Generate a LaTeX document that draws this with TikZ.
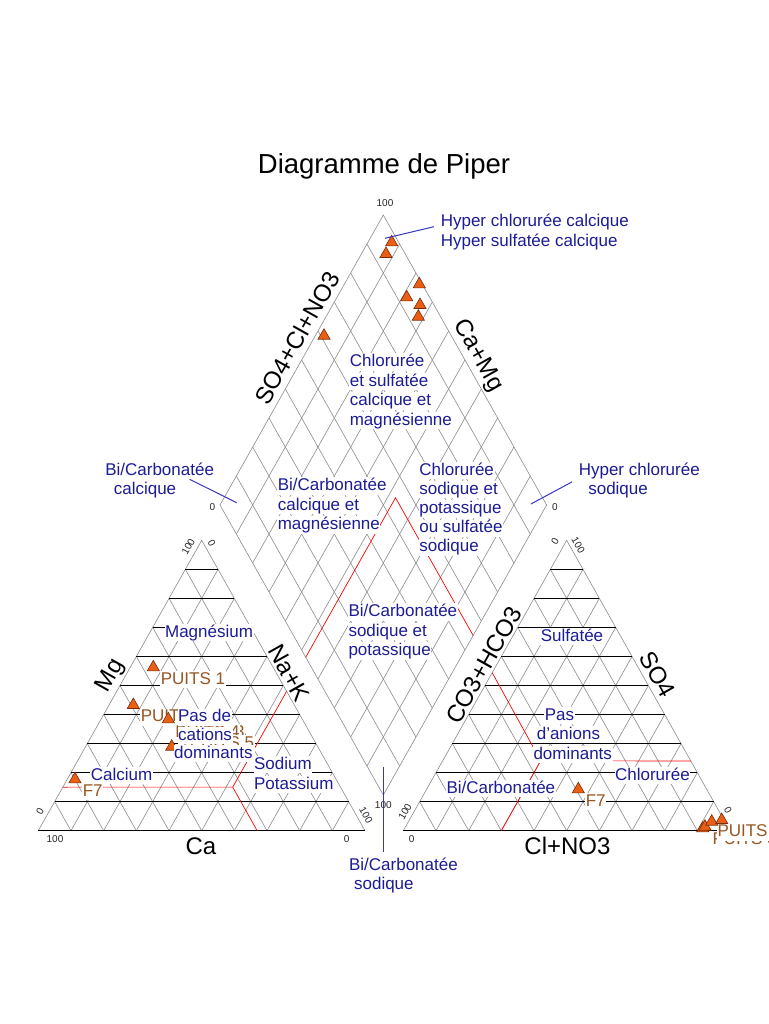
\documentclass[tikz,border=0pt]{standalone}
\usepackage{fontspec}
\setmainfont{Liberation Sans}
\usetikzlibrary{calc,shapes.geometric}

\definecolor{zoneblue}{RGB}{28,28,150}
\definecolor{pointerblue}{RGB}{55,55,190}
\definecolor{wellbrown}{RGB}{150,85,35}
\definecolor{markfill}{RGB}{235,95,20}
\definecolor{markline}{RGB}{120,45,10}
\definecolor{gridgray}{RGB}{140,140,140}

\newcommand{\zonefont}{\fontsize{17}{19.5}\selectfont}
\newcommand{\axisfont}{\fontsize{24}{28}\selectfont}
\newcommand{\tickfont}{\fontsize{10}{12}\selectfont}

\tikzset{
  grid line/.style={gridgray, line width=0.6pt},
  level line/.style={black, line width=0.9pt},
  class line/.style={red, line width=0.7pt},
  pointer/.style={pointerblue, line width=1pt},
  zone/.style={text=zoneblue, fill=white, inner sep=0.6pt, text height=12.5pt, text depth=3.5pt, anchor=base west, font=\zonefont},
  well/.style={zone, text=wellbrown},
  axis/.style={font=\axisfont, inner sep=0pt},
  tick/.style={font=\tickfont, text=black!85, inner sep=0pt},
  sample/.style={regular polygon, regular polygon sides=3, minimum size=14pt, inner sep=0pt, draw=markline, fill=markfill, line width=0.6pt}
}

\begin{document}
\begin{tikzpicture}[x=1pt,y=-1pt]
\useasboundingbox (0,0) rectangle (768,1024);
\fill[white] (0,0) rectangle (768,1024);

\node[font=\fontsize{27.5}{33}\selectfont, anchor=base] (title) at (384,174) {Diagramme de Piper};

% corners of the three plots
\coordinate (ca) at (38.3,830.7);
\coordinate (na) at (365,830.7);
\coordinate (mg) at (201.7,540.3);
\coordinate (hco) at (403.3,830.7);
\coordinate (cl) at (730,830.7);
\coordinate (so) at (566.7,540.3);
\coordinate (dtop) at (383.3,215);
\coordinate (dleft) at (220,505);
\coordinate (dright) at (546.6,505);
\coordinate (dbot) at (383.3,795);

% grids
\foreach \i in {1,...,9}{
  \draw[grid line] ($(ca)!\i/10!(na)$) -- ($(mg)!\i/10!(na)$);
  \draw[grid line] ($(na)!\i/10!(ca)$) -- ($(mg)!\i/10!(ca)$);
  \draw[grid line] ($(hco)!\i/10!(cl)$) -- ($(so)!\i/10!(cl)$);
  \draw[grid line] ($(cl)!\i/10!(hco)$) -- ($(so)!\i/10!(hco)$);
  \draw[grid line] ($(dbot)!\i/10!(dright)$) -- ($(dleft)!\i/10!(dtop)$);
  \draw[grid line] ($(dbot)!\i/10!(dleft)$) -- ($(dright)!\i/10!(dtop)$);
}
\draw[grid line] (ca) -- (mg) -- (na);
\draw[grid line] (hco) -- (so) -- (cl);
\draw[grid line] (dtop) -- (dleft) -- (dbot) -- (dright) -- cycle;
\foreach \i in {1,...,9}{
  \draw[level line] ($(ca)!\i/10!(mg)$) -- ($(na)!\i/10!(mg)$);
  \draw[level line] ($(hco)!\i/10!(so)$) -- ($(cl)!\i/10!(so)$);
}
\draw[level line] (ca) -- (na);
\draw[level line] (hco) -- (cl);

% class limits
\coordinate (cj) at (232.7,787.1);
\draw[class line] ($(ca)!.15!(mg)$) -- (cj) -- ($(mg)!.52!(na)$);
\draw[class line] (cj) -- ($(na)!.33!(ca)$);
\coordinate (aj) at (540.7,760.7);
\draw[class line] ($(hco)!.544!(so)$) -- (aj) -- ($(cl)!.24!(so)$);
\draw[class line] (aj) -- ($(hco)!.3!(cl)$);
\coordinate (dj) at (395.5,497.8);
\draw[class line] ($(dbot)!.475!(dleft)$) -- (dj) -- ($(dbot)!.55!(dright)$);

% axis names
\node[axis, rotate=60.6] (so4cl) at (297,338) {SO4+Cl+NO3};
\node[axis, rotate=-60.6] (camg) at (478,356) {Ca+Mg};
\node[axis, rotate=60.6] (mgax) at (111,676) {Mg};
\node[axis, rotate=-60.6] (naax) at (289,673) {Na+K};
\node[axis] (caax) at (201,846) {Ca};
\node[axis, rotate=60.6] (hcoax) at (484,665) {CO3+HCO3};
\node[axis, rotate=-60.6] (soax) at (657.5,674) {SO4};
\node[axis] (clax) at (567.5,846) {Cl+NO3};

% ticks
\node[tick] (dt100) at (385,203.3) {100};
\node[tick] (dl0) at (212.5,507) {0};
\node[tick] (dr0) at (555,507) {0};
\node[tick] (db100) at (383.3,805) {100};
\node[tick, rotate=60] (lt100) at (188.3,546.7) {100};
\node[tick, rotate=-60] (lt0) at (211.7,542.7) {0};
\node[tick, rotate=60] (ll0) at (40,811.7) {0};
\node[tick] (lb100) at (55,839.3) {100};
\node[tick] (lb0) at (346.7,839.3) {0};
\node[tick, rotate=-60] (lr100) at (366,815) {100};
\node[tick, rotate=60] (rl100) at (405,811.7) {100};
\node[tick] (rb0) at (411.7,839.3) {0};
\node[tick, rotate=60] (rt0) at (555,541.7) {0};
\node[tick, rotate=-60] (rt100) at (578.3,545) {100};
\node[tick, rotate=-60] (rr0) at (728,810) {0};

% well labels
\node[well] (w1) at (160,684) {PUITS 1};
\node[well] (w2) at (140,721.7) {PUITS 2};
\node[well] (w3) at (179.5,737) {PUITS 3};
\node[well] (w4) at (174.5,737) {PUITS 4};
\node[well] (w5) at (189,748) {PUITS 5};
\node[well] (f7l) at (82,796) {F7};
\node[well] (f7r) at (585,806) {F7};
\node[well] (w3r) at (711.7,844.5) {PUITS 3};
\node[well] (w4r) at (716.7,836.7) {PUITS 4};

% samples
\foreach \p [count=\k] in {(391.7,242.3),(386,254),(419.3,284.3),(406.7,297.3),(420,305),(418.3,316.7),(324,335.7)}
  \node[sample] (d\k) at \p {};
\foreach \p [count=\k] in {(153.3,667.3),(133.3,705),(168.3,719.3),(171.7,746.7),(75,779.3)}
  \node[sample] (c\k) at \p {};
\foreach \p [count=\k] in {(578.3,789.3),(702.7,828.3),(705,826.7),(711.7,821.7),(721.7,820)}
  \node[sample] (a\k) at \p {};

% facies names
\foreach \txt [count=\k] in {Chlorurée, et sulfatée, calcique et, magnésienne}
  \node[zone] (ccm\k) at (349,347+19.5*\k) {\txt};
\foreach \txt [count=\k] in {Bi/Carbonatée, calcique et, magnésienne}
  \node[zone] (bcm\k) at (277,471+19.5*\k) {\txt};
\foreach \txt [count=\k] in {Chlorurée, sodique et, potassique, ou sulfatée, sodique}
  \node[zone] (csp\k) at (418.5,455.8+19.2*\k) {\txt};
\foreach \txt [count=\k] in {Bi/Carbonatée, sodique et, potassique}
  \node[zone] (bsp\k) at (347.7,597+19.5*\k) {\txt};
\foreach \txt [count=\k] in {Hyper chlorurée calcique, Hyper sulfatée calcique}
  \node[zone] (hcc\k) at (440,206.7+20*\k) {\txt};
\node[zone] (bcc1) at (104.5,475) {Bi/Carbonatée};
\node[zone] (bcc2) at (113,494.5) {calcique};
\node[zone] (hcs1) at (578,475) {Hyper chlorurée};
\node[zone] (hcs2) at (587.5,494.5) {sodique};
\node[zone] (bcs1) at (348.3,870) {Bi/Carbonatée};
\node[zone] (bcs2) at (353.3,889) {sodique};

\node[zone] (magn) at (164.3,637.3) {Magnésium};
\node[zone] (pdc1) at (177.3,721.7) {Pas de};
\node[zone] (pdc2) at (177.3,740) {cations};
\node[zone] (pdc3) at (173.3,758.3) {dominants};
\node[zone] (calc) at (90,780) {Calcium};
\node[zone] (sodp1) at (253.3,769.3) {Sodium};
\node[zone] (sodp2) at (253.3,789.3) {Potassium};

\node[zone] (sulf) at (540,641) {Sulfatée};
\node[zone] (pda1) at (544,720) {Pas};
\node[zone] (pda2) at (536,739.3) {d'anions};
\node[zone] (pda3) at (532.7,759.3) {dominants};
\node[zone] (chlo) at (614.3,780) {Chlorurée};
\node[zone] (bica) at (445.7,793.3) {Bi/Carbonatée};

% pointers
\coordinate (hcctip) at (385,238.3);
\coordinate (bcctip) at (236.7,502.7);
\coordinate (hcstip) at (530.9,504);
\coordinate (bcstip) at (383.3,766.7);
\draw[pointer] ([xshift=-6pt,yshift=-4.5pt]hcc1.west) -- (hcctip);
\draw[pointer] ([xshift=30pt]bcc1.south) -- (bcctip);
\draw[pointer] ([xshift=-6pt,yshift=-2.6pt]hcs1.south west) -- (hcstip);
\draw[pointer] ($(bcs1.north -| bcstip)+(0,-5)$) -- (bcstip);
\end{tikzpicture}
\end{document}
